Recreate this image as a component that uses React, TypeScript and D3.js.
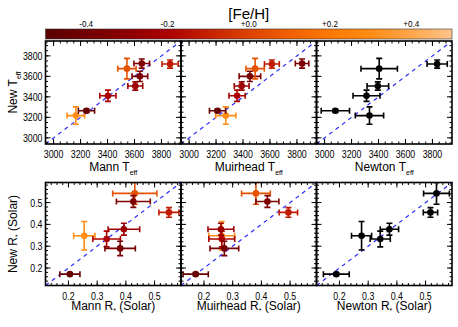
import React from "react";
import * as d3 from "d3";

// Stars A..H
const starFeH = [0.3, -0.45, -0.2, -0.25, -0.38, 0.05, -0.35, -0.12];
const newTeff = [3217, 3264, 3411, 3506, 3600, 3675, 3725, 3720];
const newTeffErr = [85, 15, 55, 40, 50, 100, 45, 40];
const mannTeff = [3165, 3244, 3403, 3606, 3640, 3544, 3654, 3864];
const mannTeffErr = [65, 60, 60, 55, 58, 68, 58, 60];
const muirTeff = [3272, 3211, 3356, 3390, 3451, 3490, 3838, 3614];
const muirTeffErr = [75, 60, 60, 55, 80, 68, 50, 55];
const newtonTeff = [3333, 3080, 3311, 3395, null, 3405, null, 3835];
const newtonTeffErr = [105, 105, 100, 80, null, 135, null, 75];
const newR = [0.348, 0.172, 0.333, 0.378, 0.29, 0.542, 0.505, 0.455];
const newRErr = [0.065, 0.006, 0.036, 0.027, 0.033, 0.05, 0.027, 0.022];
const mannR = [0.255, 0.205, 0.333, 0.393, 0.38, 0.431, 0.426, 0.55];
const mannRErr = [0.037, 0.035, 0.048, 0.055, 0.053, 0.077, 0.059, 0.035];
const muirR = [0.262, 0.171, 0.262, 0.259, 0.271, 0.381, 0.421, 0.494];
const muirRErr = [0.045, 0.044, 0.045, 0.045, 0.05, 0.05, 0.04, 0.032];
const newtonR = [0.277, 0.189, 0.342, 0.374, null, 0.538, null, 0.517];
const newtonRErr = [0.035, 0.045, 0.035, 0.032, null, 0.045, null, 0.025];

const tDomain = [2940, 3945];
const rDomain = [0.12, 0.592];
const tMajor = [3000, 3200, 3400, 3600, 3800];
const rMajor = [0.2, 0.3, 0.4, 0.5];
const cbTicks = [-0.4, -0.2, 0.0, 0.2, 0.4];
const cbDomain = [-0.5, 0.5];
const cbStopsFeH = [-0.5, -0.35, -0.2, -0.1, 0.0, 0.1, 0.2, 0.3, 0.4, 0.5];
const cbStopsColor = ["#5a0000", "#7e0000", "#ac0000", "#c42000", "#dc4200", "#f06000", "#ff7800", "#ff8c14", "#ffa64c", "#ffc48a"];

const color = d3.scaleLinear<string>().domain(cbStopsFeH).range(cbStopsColor).clamp(true);

const FONT = "'Liberation Sans', Arial, Helvetica, sans-serif";
const panelX = [45.5, 181, 316.5];
const panelW = 135.5;
const rowY = [41, 182.5];
const panelH = 103;

function T({ x, y, size, anchor = "middle", sx = 0.8, children, rotate = 0 }: any) {
  return (
    <text
      transform={`translate(${x},${y}) rotate(${rotate}) scale(${sx},1)`}
      textAnchor={anchor}
      fontSize={size}
      fontFamily={FONT}
      fill="#000"
    >
      {children}
    </text>
  );
}

function Panel({ px, py, domain, major, minorStep, xs, xe, ys, ye, colored, showY, fmt, id }: any) {
  const x = d3.scaleLinear().domain(domain).range([px, px + panelW]);
  const y = d3.scaleLinear().domain(domain).range([py + panelH, py]);
  const minor = d3.range(Math.ceil(domain[0] / minorStep) * minorStep, domain[1], minorStep);
  const pts = xs
    .map((v: any, i: number) => ({ xv: v, xe: xe[i], yv: ys[i], ye: ye[i], c: colored ? color(starFeH[i]) : "#000" }))
    .filter((p: any) => p.xv != null);
  const cap = 3;
  const tickEls: any[] = [];
  const addTicks = (vals: number[], len: number, key: string) => {
    vals.forEach((v, i) => {
      const xx = x(v);
      const yy = y(v);
      tickEls.push(<line key={`${key}b${i}`} x1={xx} x2={xx} y1={py + panelH} y2={py + panelH - len} />);
      tickEls.push(<line key={`${key}t${i}`} x1={xx} x2={xx} y1={py} y2={py + len} />);
      tickEls.push(<line key={`${key}l${i}`} x1={px} x2={px + len} y1={yy} y2={yy} />);
      tickEls.push(<line key={`${key}r${i}`} x1={px + panelW} x2={px + panelW - len} y1={yy} y2={yy} />);
    });
  };
  addTicks(minor, 2.5, "mn");
  addTicks(major, 5, "mj");
  return (
    <g>
      <defs>
        <clipPath id={id}>
          <rect x={px} y={py} width={panelW} height={panelH} />
        </clipPath>
      </defs>
      <g clipPath={`url(#${id})`}>
        <line x1={x(domain[0])} y1={y(domain[0])} x2={x(domain[1])} y2={y(domain[1])} stroke="#2a2aff" strokeWidth={1.2} strokeDasharray="4,4" />
        {pts.map((p: any, i: number) => (
          <g key={i} stroke={p.c} strokeWidth={1.6} fill={p.c}>
            <line x1={x(p.xv - p.xe)} x2={x(p.xv + p.xe)} y1={y(p.yv)} y2={y(p.yv)} />
            <line x1={x(p.xv - p.xe)} x2={x(p.xv - p.xe)} y1={y(p.yv) - cap} y2={y(p.yv) + cap} />
            <line x1={x(p.xv + p.xe)} x2={x(p.xv + p.xe)} y1={y(p.yv) - cap} y2={y(p.yv) + cap} />
            <line x1={x(p.xv)} x2={x(p.xv)} y1={y(p.yv - p.ye)} y2={y(p.yv + p.ye)} />
            <line x1={x(p.xv) - cap} x2={x(p.xv) + cap} y1={y(p.yv - p.ye)} y2={y(p.yv - p.ye)} />
            <line x1={x(p.xv) - cap} x2={x(p.xv) + cap} y1={y(p.yv + p.ye)} y2={y(p.yv + p.ye)} />
            <circle cx={x(p.xv)} cy={y(p.yv)} r={3.3} stroke="none" />
          </g>
        ))}
      </g>
      <g stroke="#000" strokeWidth={1}>{tickEls}</g>
      <rect x={px} y={py} width={panelW} height={panelH} fill="none" stroke="#000" strokeWidth={1.6} />
      {major.map((v: number, i: number) => (
        <T key={`xl${i}`} x={x(v)} y={py + panelH + 14} size={11}>{fmt(v)}</T>
      ))}
      {showY &&
        major.map((v: number, i: number) => (
          <T key={`yl${i}`} x={px - 3} y={y(v) + 4} size={11} anchor="end">{fmt(v)}</T>
        ))}
    </g>
  );
}

export default function App() {
  const W = 458;
  const H = 327;
  const cb = d3.scaleLinear().domain(cbDomain).range([45.5, 452]);
  const fmtT = (v: number) => d3.format("d")(v);
  const fmtR = (v: number) => d3.format(".1f")(v);
  const fmtCb = (v: number) => (v >= 0 ? "+" : "-") + Math.abs(v).toFixed(1);
  const tNames = ["Mann", "Muirhead", "Newton"];
  const tX = [mannTeff, muirTeff, newtonTeff];
  const tXe = [mannTeffErr, muirTeffErr, newtonTeffErr];
  const rX = [mannR, muirR, newtonR];
  const rXe = [mannRErr, muirRErr, newtonRErr];
  return (
    <svg width={W} height={H} style={{ position: "absolute", left: 0, top: 0, background: "#fff" }}>
      <defs>
        <linearGradient id="cbgrad" x1="0" x2="1" y1="0" y2="0">
          {cbStopsFeH.map((f, i) => (
            <stop key={i} offset={(f - cbDomain[0]) / (cbDomain[1] - cbDomain[0])} stopColor={cbStopsColor[i]} />
          ))}
        </linearGradient>
      </defs>
      <rect x={0} y={0} width={W} height={H} fill="#fff" />
      <T x={(cb.range()[0] + cb.range()[1]) / 2} y={19} size={15} sx={1}>[Fe/H]</T>
      <rect x={cb.range()[0]} y={29} width={cb.range()[1] - cb.range()[0]} height={10} fill="url(#cbgrad)" stroke="#333" strokeWidth={0.6} />
      {cbTicks.map((v, i) => (
        <T key={i} x={cb(v)} y={27} size={9} sx={0.9}>{fmtCb(v)}</T>
      ))}
      {tNames.map((n, j) => (
        <Panel key={`t${j}`} id={`ct${j}`} px={panelX[j]} py={rowY[0]} domain={tDomain} major={tMajor} minorStep={50}
          xs={tX[j]} xe={tXe[j]} ys={newTeff} ye={newTeffErr} colored={j < 2} showY={j === 0} fmt={fmtT} />
      ))}
      {tNames.map((n, j) => (
        <Panel key={`r${j}`} id={`cr${j}`} px={panelX[j]} py={rowY[1]} domain={rDomain} major={rMajor} minorStep={0.02}
          xs={rX[j]} xe={rXe[j]} ys={newR} ye={newRErr} colored={j < 2} showY={j === 0} fmt={fmtR} />
      ))}
      {tNames.map((n, j) => (
        <text key={`tt${j}`} x={panelX[j] + panelW / 2} y={171} textAnchor="middle" fontSize={12} fontFamily={FONT}>
          {n} T<tspan fontSize={7} dy={4}>eff</tspan>
        </text>
      ))}
      {tNames.map((n, j) => (
        <text key={`rt${j}`} x={panelX[j] + panelW / 2} y={310} textAnchor="middle" fontSize={12} fontFamily={FONT}>
          {n} R<tspan fontSize={7} dy={3}>*</tspan><tspan dy={-3}> (Solar)</tspan>
        </text>
      ))}
      <text transform={`translate(17,${rowY[0] + panelH / 2}) rotate(-90)`} textAnchor="middle" fontSize={12} fontFamily={FONT}>
        New T<tspan fontSize={7} dy={4}>eff</tspan>
      </text>
      <text transform={`translate(17,${rowY[1] + panelH / 2}) rotate(-90)`} textAnchor="middle" fontSize={12} fontFamily={FONT}>
        New R<tspan fontSize={7} dy={3}>*</tspan><tspan dy={-3}> (Solar)</tspan>
      </text>
    </svg>
  );
}
